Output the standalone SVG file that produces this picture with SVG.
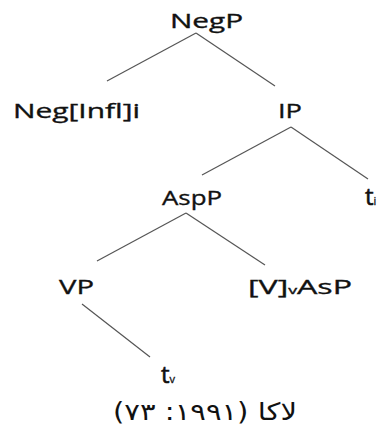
<svg xmlns="http://www.w3.org/2000/svg" width="382" height="430" viewBox="0 0 382 430">
<style>
.lbl{font-family:"Open Sans","Noto Sans","DejaVu Sans",sans-serif;font-size:20px;fill:#111;stroke:#111;stroke-width:0.35;}
.sub{font-size:11px;}
.t{font-size:24px;stroke-width:0.6;}
.edge{stroke:#555;stroke-width:1.2;fill:none;}
.ar{font-family:"DejaVu Sans","Noto Sans",sans-serif;font-size:24px;fill:#111;}
</style>
<rect width="382" height="430" fill="#fff"/>
<g id="connectors">
<line class="edge" x1="196" y1="33" x2="107" y2="81"/>
<line class="edge" x1="196" y1="33" x2="275" y2="86"/>
<line class="edge" x1="291" y1="127" x2="202" y2="175"/>
<line class="edge" x1="291" y1="127" x2="368" y2="179"/>
<line class="edge" x1="186" y1="213" x2="97" y2="261"/>
<line class="edge" x1="186" y1="213" x2="265" y2="265"/>
<line class="edge" x1="82" y1="304" x2="150" y2="357"/>
</g>
<g id="NegP"><text class="lbl" x="170" y="28" textLength="73" lengthAdjust="spacingAndGlyphs">NegP</text></g>
<g id="NegInfl"><text class="lbl" x="13" y="118" textLength="127" lengthAdjust="spacingAndGlyphs">Neg[Infl]i</text></g>
<g id="IP"><text class="lbl" x="278" y="118" textLength="24" lengthAdjust="spacingAndGlyphs">IP</text></g>
<g id="AspP"><text class="lbl" x="162" y="205" textLength="60" lengthAdjust="spacingAndGlyphs">AspP</text></g>
<g id="ti"><text class="lbl t" x="365" y="205">t<tspan class="sub" style="stroke-width:0.3">i</tspan></text></g>
<g id="VP"><text class="lbl" x="59" y="294" textLength="35" lengthAdjust="spacingAndGlyphs">VP</text></g>
<g id="VvAsP"><text class="lbl" x="248" y="294" textLength="104" lengthAdjust="spacingAndGlyphs">[V]<tspan class="sub">v</tspan>AsP</text></g>
<g id="tv"><text class="lbl t" x="161" y="383">t<tspan class="sub" style="stroke-width:0.3">v</tspan></text></g>
<g id="caption"><text class="ar" x="205" y="420" text-anchor="middle" direction="rtl" unicode-bidi="embed" textLength="184" lengthAdjust="spacingAndGlyphs">لاکا (۱۹۹۱: ۷۳)</text></g>
</svg>
